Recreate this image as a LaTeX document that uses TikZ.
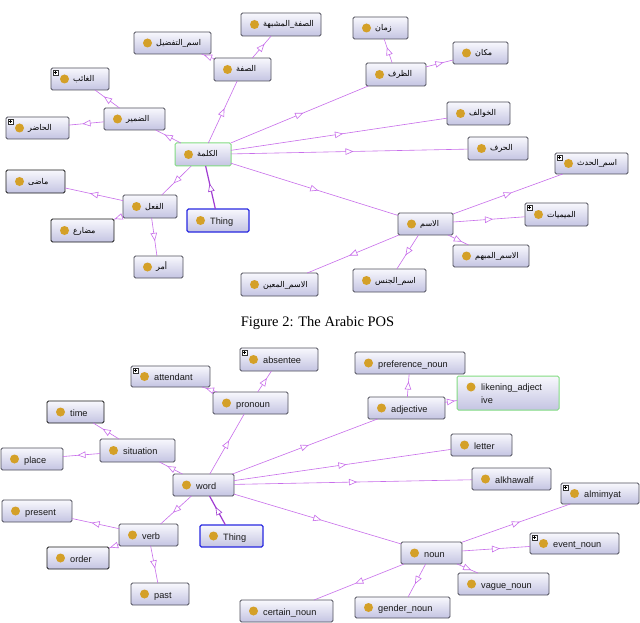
\documentclass[tikz,border=0pt]{standalone}
\usepackage{fontspec}
\setmainfont{Liberation Serif}
\newfontfamily\lsans{Liberation Sans}
\newfontfamily\arabicfont[Script=Arabic]{DejaVu Sans}
\TeXXeTstate=1
\usetikzlibrary{arrows.meta,decorations.markings}

\definecolor{edgec}{RGB}{200,110,235}
\definecolor{thingc}{RGB}{160,60,210}
\definecolor{dotc}{RGB}{212,160,40}
\definecolor{boxtop}{RGB}{248,248,253}
\definecolor{boxbot}{RGB}{196,196,226}
\definecolor{boxline}{RGB}{80,80,92}
\definecolor{greenline}{RGB}{130,220,130}
\definecolor{blueline}{RGB}{40,40,225}

\tikzset{
 cbox/.style={rectangle, rounded corners=1.5pt, draw=boxline, line width=0.9pt, top color=boxtop, bottom color=boxbot, inner sep=0pt, outer sep=0pt},
 darkbox/.style={draw=black!90},
 greenbox/.style={draw=greenline, line width=1pt},
 bluebox/.style={draw=blueline, line width=1.1pt},
 odot/.style={circle, fill=dotc, minimum size=9pt, inner sep=0pt},
 elbl/.style={anchor=base west, inner sep=0pt, font=\lsans\fontsize{9.2}{11}\selectfont, text=black!90},
 albl/.style={anchor=base west, inner sep=0pt, font=\arabicfont\fontsize{8}{9}\selectfont, text=black},
 subarc/.style={draw=#1, line width=0.6pt, postaction={decorate},
   decoration={markings, mark=at position 0.5 with {\arrow[#1, line width=0.6pt, xshift=4pt]{Triangle[length=8pt,width=6.5pt,fill=white]}}}},
 subarc/.default=edgec,
 pbox/.style={draw=black!80, fill=white, line width=0.4pt},
}

\newcommand\enode[7][]{%
 \node[cbox,#1,minimum width={#5-#3},minimum height={#6-#4}] (#2) at ({(#3+#5)/2},{(#4+#6)/2}) {};
 \node[odot] (#2-d) at ([xshift=13.5pt]#2.west) {};
 \node[elbl] (#2-t) at ([xshift=23pt,yshift=-4pt]#2.west) {#7};}
\newcommand\anode[7][]{%
 \node[cbox,#1,minimum width={#5-#3},minimum height={#6-#4}] (#2) at ({(#3+#5)/2},{(#4+#6)/2}) {};
 \node[odot] (#2-d) at ([xshift=13.5pt]#2.west) {};
 \node[albl] (#2-t) at ([xshift=22pt,yshift=-2.5pt]#2.west) {\beginR #7\endR};}
\newcommand\plusmark[1]{%
 \draw[pbox] ([xshift=2pt,yshift=-2pt]#1.north west) rectangle ++(5pt,-5pt);
 \draw[line width=0.5pt] ([xshift=3pt,yshift=-4.5pt]#1.north west) -- ++(3pt,0pt);
 \draw[line width=0.5pt] ([xshift=4.5pt,yshift=-3pt]#1.north west) -- ++(0pt,-3pt);}
\newcommand\sub[2]{\draw[subarc] (#1) -- (#2);}

\begin{document}
\begin{tikzpicture}[x=1pt,y=-1pt]
\fill[white] (0,0) rectangle (640,623);
\useasboundingbox (0,0) rectangle (640,623);

% ---------- Arabic graph ----------
\anode{sfm}{241}{13}{321}{36}{الصفة\_المشبهة}
\anode{tfd}{134}{32}{211}{54}{اسم\_التفضيل}
\anode{sf}{214}{58}{271}{81}{الصفة}
\anode{ghb}{51}{68}{109}{90}{الغائب}
\anode{dmr}{104}{108}{165}{130}{الضمير}
\anode{hdr}{6}{117}{69}{139}{الحاضر}
\anode[greenbox]{kal}{175}{143}{231}{166}{الكلمة}
\anode{zmn}{353}{17}{408}{39}{زمان}
\anode{mkn}{453}{42}{508}{64}{مكان}
\anode{zrf}{366}{63}{426}{86}{الظرف}
\anode{khw}{447}{102}{510}{125}{الخوالف}
\anode{hrf}{468}{137}{528}{160}{الحرف}
\anode[darkbox]{mdy}{6}{170}{65}{193}{ماضى}
\anode{fil}{123}{195}{177}{218}{الفعل}
\enode[bluebox]{tha}{187}{209}{249}{232}{Thing}
\anode[darkbox]{mdr}{51}{219}{114}{242}{مضارع}
\anode{amr}{134}{256}{183}{278}{أمر}
\anode{mun}{241}{273}{318}{296}{الاسم\_المعين}
\anode{hdt}{555}{153}{628}{174}{اسم\_الحدث}
\anode{ism}{398}{213}{453}{235}{الاسم}
\anode{mim}{525}{203}{588}{226}{الميميات}
\anode{mbh}{453}{245}{529}{267}{الاسم\_المبهم}
\anode{jns}{353}{269}{426}{292}{اسم\_الجنس}
\plusmark{ghb}\plusmark{hdr}\plusmark{hdt}\plusmark{mim}

\sub{kal}{dmr}\sub{kal}{sf}\sub{kal}{zrf}\sub{kal}{khw}\sub{kal}{hrf}\sub{kal}{ism}\sub{kal}{fil}
\draw[subarc=thingc, line width=1.2pt] (tha) -- (kal);
\sub{dmr}{ghb}\sub{dmr}{hdr}
\sub{sf}{tfd}\sub{sf}{sfm}
\sub{zrf}{zmn}\sub{zrf}{mkn}
\sub{fil}{mdy}\sub{fil}{mdr}\sub{fil}{amr}
\sub{ism}{hdt}\sub{ism}{mim}\sub{ism}{mbh}\sub{ism}{jns}\sub{ism}{mun}

% ---------- caption ----------
\node[font=\fontsize{14.5}{17}\selectfont, anchor=base, inner sep=0pt] (cap) at (317.5,326.5) {Figure 2: The Arabic POS};

% ---------- English graph ----------
\enode{abs}{240}{348}{318}{371}{absentee}
\enode{att}{131}{366}{210}{387}{attendant}
\enode{prn}{213}{392}{288}{414}{pronoun}
\enode[darkbox]{tim}{47}{401}{104}{423}{time}
\enode{sit}{100}{439}{175}{462}{situation}
\enode{plc}{1}{448}{63}{470}{place}
\enode{wrd}{173}{474}{234}{496}{word}
\enode{prf}{355}{352}{465}{374}{preference\_noun}
\node[cbox,greenbox,minimum width=102,minimum height=34] (lik) at (508,393) {};
\node[odot] (lik-d) at (471,387) {};
\node[elbl] (lik-t1) at (481,390.5) {likening\_adject};
\node[elbl] (lik-t2) at (481,403) {ive};
\enode{adj}{368}{397}{445}{419}{adjective}
\enode{let}{451}{434}{512}{456}{letter}
\enode{alk}{472}{468}{551}{490}{alkhawalf}
\enode{prs}{2}{500}{72}{522}{present}
\enode{vrb}{119}{524}{178}{546}{verb}
\enode[bluebox]{thb}{200}{525}{263}{547}{Thing}
\enode[darkbox]{ord}{47}{547}{109}{569}{order}
\enode{pst}{131}{583}{189}{605}{past}
\enode{cer}{240}{600}{333}{622}{certain\_noun}
\enode{mmy}{561}{483}{639}{504}{almimyat}
\enode{evn}{530}{533}{619}{554}{event\_noun}
\enode{nou}{401}{542}{462}{564}{noun}
\enode{vag}{458}{573}{549}{595}{vague\_noun}
\enode{gen}{355}{597}{450}{618}{gender\_noun}
\plusmark{abs}\plusmark{att}\plusmark{mmy}\plusmark{evn}

\sub{wrd}{prn}\sub{wrd}{sit}\sub{wrd}{adj}\sub{wrd}{let}\sub{wrd}{alk}\sub{wrd}{nou}\sub{wrd}{vrb}
\draw[subarc=thingc, line width=1.2pt] (thb) -- (wrd);
\sub{prn}{att}\sub{prn}{abs}
\sub{sit}{tim}\sub{sit}{plc}
\sub{adj}{prf}\sub{adj}{lik}
\sub{vrb}{prs}\sub{vrb}{ord}\sub{vrb}{pst}
\sub{nou}{mmy}\sub{nou}{evn}\sub{nou}{vag}\sub{nou}{gen}\sub{nou}{cer}
\end{tikzpicture}
\end{document}
